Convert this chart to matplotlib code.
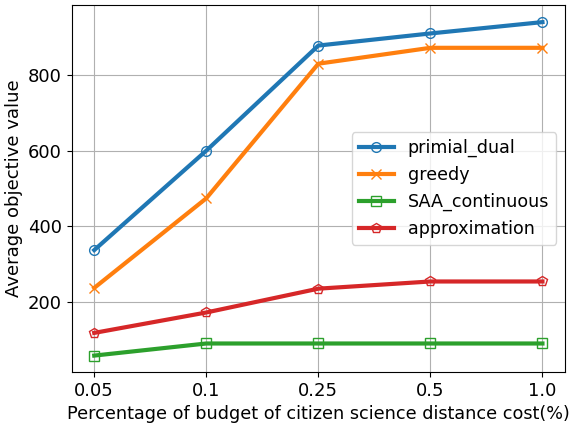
import matplotlib
matplotlib.use("Agg")
import matplotlib.pyplot as plt

categories = ["0.05", "0.1", "0.25", "0.5", "1.0"]
primal_dual = [337, 600, 878, 910, 940]
greedy = [237, 474, 830, 872, 872]
saa_continuous = [58, 90, 90, 90, 90]
approximation = [118, 172, 235, 254, 254]

fig = plt.figure(figsize=(5.7, 4.24), dpi=100)
ax = fig.add_subplot(111)
fig.subplots_adjust(left=0.126, right=0.991, top=0.988, bottom=0.123)

x = list(range(len(categories)))
ax.plot(x, primal_dual, marker="o", fillstyle="none", lw=3, ms=7, color="#1f77b4", label="primial_dual")
ax.plot(x, greedy, marker="x", lw=3, ms=7, color="#ff7f0e", label="greedy")
ax.plot(x, saa_continuous, marker="s", fillstyle="none", lw=3, ms=7, color="#2ca02c", label="SAA_continuous")
ax.plot(x, approximation, marker="p", fillstyle="none", lw=3, ms=7, color="#d62728", label="approximation")

ax.set_xticks(x)
ax.set_xticklabels(categories)
ax.set_ylim(15, 985)
ax.set_yticks([200, 400, 600, 800])
ax.tick_params(labelsize=13)
ax.grid(True, color="#b0b0b0", lw=0.8)
ax.set_xlabel("Percentage of budget of citizen science distance cost(%)", fontsize=12.7)
ax.set_ylabel("Average objective value", fontsize=13)
ax.legend(loc="center right", fontsize=12.6)

fig.savefig("out.png", dpi=100)
